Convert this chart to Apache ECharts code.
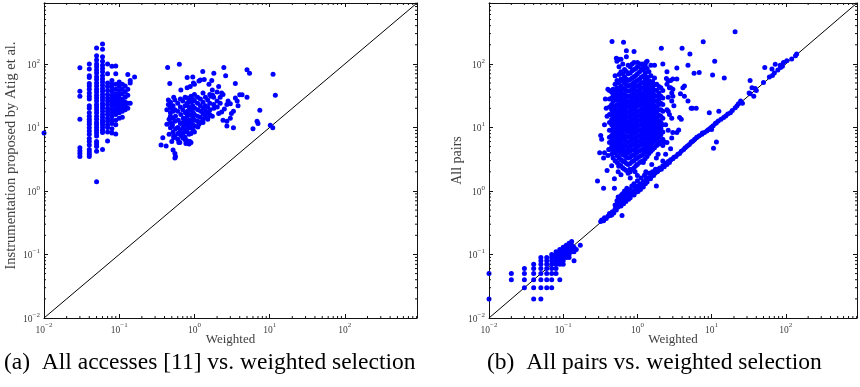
<!DOCTYPE html>
<html>
<head>
<meta charset="utf-8">
<script src="https://cdn.jsdelivr.net/npm/echarts@6/dist/echarts.min.js"></script>
<style>
  html, body { margin: 0; padding: 0; background: #fff; }
  #chart { width: 860px; height: 387px; }
</style>
</head>
<body>
<div id="chart"></div>
<script>
// axis range shared by both panels (log10 from -2 to ~2.96)
const axisMin = 0.01;
const axisMax = 910;
const majorTicks = [0.01, 0.1, 1, 10, 100];
const minorSteps = [2, 3, 4, 5, 6, 7, 8, 9];

// (a) all accesses [11] vs weighted: columns of points at discrete x
const atigColumns = [
  [0.01, [8.2]],
  [0.03, [87, 37, 31, 13.4, 4.8, 4.3, 3.9, 3.5]],
  [0.04, [100, 83, 65, 61, 49, 45, 40, 35, 31, 28, 22, 20, 17, 15, 13.4, 12.3, 11.2, 9.9, 8.8, 7.8, 6.7, 6.0, 5.3, 4.5, 4.1, 3.8, 3.5]],
  [0.05, [178, 135, 115, 100, 90, 80, 72, 63, 57, 50, 45, 40, 36, 32, 29, 26, 23, 21, 19, 17, 15, 13.5, 12, 11, 10, 9, 8.2, 7.3, 6.0, 5.5, 5.0, 4.2, 1.4]],
  [0.06, [205, 170, 130, 110, 95, 85, 75, 65, 58, 52, 46, 41, 37, 33, 30, 27, 24, 22, 20, 18, 16, 14.5, 13, 12, 11, 10, 9, 8.3, 4.5]],
  [0.07, [100, 70, 50, 44, 38, 33, 29, 26, 23, 20, 18, 16, 14, 12.5, 11, 10, 8.5, 6.1]],
  [0.08, [92, 55, 48, 42, 37, 32, 28, 25, 22, 19, 17, 15, 13, 11.5, 9.5, 8.2]],
  [0.09, [93, 70, 48, 40, 34, 30, 26, 23, 20, 18, 16, 13, 11, 7.9]],
  [0.1, [52, 45, 38, 33, 29, 25, 22, 19, 17, 14]],
  [0.11, [48, 40, 34, 28, 24, 21, 18, 14.5]],
  [0.12, [45, 36, 30, 25, 22, 19]],
  [0.13, [68, 40, 32, 24, 20]],
  [0.14, [55, 50, 24]],
  [0.16, [62]]
];

// (a) scattered group right of 0.3
const atigPoints = [
  [0.44, 88], [0.63, 99], [0.47, 49], [0.8, 61], [0.95, 62], [1.29, 76], [1.81, 71], [2.46, 88], [2.6, 65],
  [5.0, 81], [5.4, 71], [11.1, 69], [11.9, 32], [3.5, 49], [2.1, 44], [1.7, 55], [1.56, 48], [1.73, 39],
  [1.2, 56], [1.35, 57], [1.15, 54], [0.8, 42], [0.88, 44], [1.0, 48], [0.97, 50], [0.66, 39], [0.53, 30],
  [0.45, 27], [0.45, 23], [0.47, 22], [0.43, 19], [0.52, 18], [0.48, 15], [0.46, 13.4], [0.43, 11.2],
  [0.48, 9.9], [0.46, 7.8], [0.53, 6.9], [0.53, 7.4], [0.38, 6.9], [0.36, 5.3], [0.42, 5.1], [0.52, 4.4],
  [0.55, 3.9], [0.56, 3.5], [0.55, 3.3], [0.62, 5.8], [0.77, 5.6], [0.75, 6.4], [0.87, 6.0], [0.85, 5.5],
  [0.66, 7.8], [0.77, 8.8], [0.97, 10.5], [1.15, 11.2], [1.3, 12], [1.5, 13.4], [1.73, 15], [2.1, 16.5],
  [2.3, 17.5], [2.5, 19.5], [2.7, 23], [3.0, 23.5], [2.8, 26], [3.5, 29], [3.7, 26], [3.8, 22], [3.3, 18],
  [4.0, 32.6], [4.3, 32.6], [5.0, 30], [2.4, 13], [2.7, 12.5], [3.1, 16.5], [3.0, 14], [3.3, 9.9],
  [2.7, 10.5], [6.0, 9.5], [6.8, 12.5], [7.0, 11.5], [7.4, 18.7], [10.2, 10.8], [11, 9.9],
  [1.65, 31], [1.75, 32], [2.3, 35], [2.4, 33],
  [0.48, 25], [0.48, 20], [0.48, 17], [0.48, 12], [0.5, 10.5], [0.52, 22], [0.52, 14], [0.51, 11], [0.52, 8.5],
  [0.5, 6], [0.55, 27], [0.55, 19], [0.56, 15], [0.55, 12.5], [0.56, 9.5], [0.55, 7.2], [0.6, 24], [0.6, 18],
  [0.61, 13], [0.6, 10], [0.6, 8], [0.6, 6.5], [0.65, 28], [0.65, 21], [0.66, 16], [0.65, 11.5], [0.65, 9],
  [0.66, 7.5], [0.64, 5.8], [0.7, 26], [0.7, 19], [0.71, 14], [0.7, 12], [0.7, 10], [0.71, 8.2], [0.7, 6.8],
  [0.75, 30], [0.75, 22], [0.76, 17], [0.75, 13.5], [0.75, 11], [0.76, 9.2], [0.75, 7], [0.8, 29], [0.8, 24],
  [0.81, 18], [0.8, 15], [0.8, 12.5], [0.81, 10.5], [0.8, 8.5], [0.8, 6.2], [0.85, 27], [0.85, 21], [0.86, 16],
  [0.85, 13], [0.85, 11.5], [0.86, 9.8], [0.85, 7.8], [0.9, 31], [0.9, 25], [0.91, 19], [0.9, 15.5], [0.9, 12],
  [0.91, 10], [0.9, 8], [0.9, 5.8], [0.95, 28], [0.95, 22], [0.96, 17], [0.95, 14], [0.95, 11], [0.96, 9],
  [1.0, 33], [1.0, 26], [1.01, 20], [1.0, 16], [1.0, 13], [1.01, 10.5], [1.0, 8.5], [1.1, 30], [1.1, 24],
  [1.11, 19], [1.1, 15], [1.1, 12.5], [1.11, 10.2], [1.2, 28], [1.2, 22], [1.21, 18], [1.2, 14.5], [1.2, 12],
  [1.3, 35], [1.3, 25], [1.31, 20], [1.3, 16.5], [1.3, 13.5], [1.4, 30], [1.4, 22], [1.41, 18], [1.4, 15],
  [1.5, 27], [1.5, 21], [1.51, 17], [1.5, 14], [1.6, 33], [1.6, 24], [1.61, 19], [1.6, 16], [1.8, 30],
  [1.8, 23], [1.81, 20], [2.0, 36], [2.0, 26], [2.01, 21], [2.2, 30], [2.2, 24]
];

// (b) all pairs vs weighted: low discrete cluster
const pairsLowColumns = [
  [0.01, [0.05, 0.02]],
  [0.02, [0.05, 0.04]],
  [0.03, [0.06, 0.05, 0.04, 0.03]],
  [0.04, [0.07, 0.06, 0.05, 0.04, 0.03, 0.02]],
  [0.05, [0.09, 0.08, 0.07, 0.06, 0.05, 0.04, 0.03, 0.02]],
  [0.06, [0.09, 0.08, 0.07, 0.06, 0.05, 0.04, 0.03]],
  [0.07, [0.1, 0.09, 0.08, 0.07, 0.06, 0.05, 0.04, 0.03]],
  [0.08, [0.11, 0.1, 0.09, 0.08, 0.07, 0.06, 0.05]],
  [0.09, [0.12, 0.11, 0.1, 0.09, 0.08, 0.07, 0.04]],
  [0.1, [0.13, 0.12, 0.11, 0.1, 0.09, 0.08, 0.07]],
  [0.11, [0.14, 0.13, 0.12, 0.11, 0.1, 0.09]],
  [0.12, [0.15, 0.13, 0.12, 0.11, 0.1, 0.09]],
  [0.13, [0.16, 0.14, 0.12, 0.11]],
  [0.14, [0.13, 0.11, 0.08]],
  [0.15, [0.12]],
  [0.17, [0.14]]
];

// (b) band along the diagonal
const pairsBand = [
  [0.32, 0.33], [0.33, 0.35], [0.35, 0.34], [0.36, 0.38], [0.38, 0.37], [0.4, 0.4], [0.42, 0.44], [0.43, 0.41],
  [0.45, 0.42], [0.46, 0.47], [0.48, 0.45], [0.5, 0.52], [0.5, 0.6], [0.52, 0.5], [0.53, 0.7], [0.54, 0.65],
  [0.55, 0.56], [0.55, 0.8], [0.57, 0.62], [0.58, 0.75], [0.6, 0.58], [0.6, 0.68], [0.6, 0.85], [0.62, 0.41],
  [0.63, 0.72], [0.63, 0.9], [0.65, 0.63], [0.66, 0.8], [0.67, 1.0], [0.68, 0.7], [0.7, 0.68], [0.7, 0.88],
  [0.72, 1.1], [0.73, 0.76], [0.75, 0.95], [0.76, 0.74], [0.78, 0.85], [0.8, 1.05], [0.8, 0.78], [0.82, 0.92],
  [0.84, 1.2], [0.85, 0.88], [0.88, 1.0], [0.9, 0.86], [0.9, 1.3], [0.93, 1.12], [0.95, 0.95], [0.97, 1.05],
  [1.0, 1.2], [1.0, 1.45], [1.02, 0.98], [1.05, 1.1], [1.08, 1.3], [1.1, 1.05], [1.12, 1.6], [1.15, 1.25],
  [1.2, 1.15], [1.2, 1.4], [1.25, 1.75], [1.28, 1.3], [1.3, 1.5], [1.35, 1.38], [1.4, 1.62], [1.45, 1.9],
  [1.5, 1.55], [1.55, 1.7], [1.6, 2.0], [1.65, 1.75], [1.7, 1.9], [1.75, 2.2], [1.8, 1.2], [1.85, 2.0],
  [1.9, 2.1], [2.0, 2.3], [2.1, 2.2], [2.2, 2.5], [2.3, 2.4], [2.4, 2.7], [2.5, 2.6], [2.6, 2.9], [2.7, 2.8],
  [2.8, 3.1], [3.0, 3.2], [3.1, 3.4], [3.3, 3.5], [3.5, 3.8], [3.7, 3.9], [3.9, 4.2], [4.2, 4.5], [4.4, 4.8],
  [4.7, 5.1], [5.0, 5.4], [5.3, 5.9], [5.6, 6.1], [5.9, 6.5], [6.3, 7.0], [6.8, 7.4], [7.4, 7.8], [7.5, 8.2],
  [8.0, 8.3], [8.6, 8.8], [9.0, 9.2], [9.5, 9.6], [10, 9.3], [10, 10.2], [10.5, 10.6], [11.2, 11.5],
  [11.6, 11.9], [12.3, 12.6], [13.4, 13.5], [14.5, 14.4], [15.5, 15.2], [16.5, 16.3], [17.9, 17], [19, 18.5],
  [20.8, 20.5], [22, 22], [23, 23.5], [24.6, 26], [26, 24], [10.6, 4.7], [11.6, 5.9], [33, 55], [35, 42],
  [32, 35], [37, 31], [38.6, 41], [33, 34], [40, 38], [50, 51], [52, 88], [60, 62], [65, 83], [66, 66],
  [70, 72], [72, 99], [78, 80], [84, 95], [85, 88], [90, 92], [93, 105], [103, 112], [120, 119], [135, 135],
  [140, 143]
];

// (b) dense cloud above the diagonal, by column
const pairsCloudColumns = [
  [0.42, [4.5, 5.8, 7, 9, 12, 16, 21, 28, 38]],
  [0.45, [3.8, 5, 6.1, 7.5, 9, 11, 13.3, 16, 19, 23, 29, 36]],
  [0.47, [3.3, 4.4, 5.5, 6.6, 8.1, 9.8, 12, 14.5, 17.5, 21, 26, 33, 40]],
  [0.5, [3.0, 4.0, 4.9, 6, 7.1, 8.6, 10.3, 12.5, 15, 18, 22, 27, 31, 38, 48, 65]],
  [0.53, [2.8, 3.6, 4.5, 5.4, 6.5, 7.8, 9.3, 11, 13.2, 16, 19, 23, 28, 34, 42, 55, 110]],
  [0.565, [2.6, 3.3, 4.2, 5, 6, 7.2, 8.6, 10.4, 12.6, 15, 18, 22, 26.5, 32, 39, 50, 68, 90]],
  [0.6, [2.5, 3.1, 3.9, 4.7, 5.7, 6.8, 8.2, 9.9, 12, 14.3, 17, 20.5, 25, 30, 37, 45, 58, 75, 118]],
  [0.635, [2.3, 3.0, 3.7, 4.5, 5.4, 6.5, 7.8, 9.4, 11.3, 13.6, 16.3, 19.5, 23.5, 28.5, 34, 42, 54, 70, 100]],
  [0.67, [2.2, 2.9, 3.6, 4.3, 5.2, 6.3, 7.5, 9, 10.8, 13, 15.5, 18.7, 22.5, 27, 33, 40, 50, 63, 82]],
  [0.71, [2.1, 2.7, 3.4, 4.1, 5, 6, 7.2, 8.7, 10.4, 12.5, 15, 18, 21.5, 26, 31.5, 38, 47, 58, 76, 130]],
  [0.75, [1.9, 2.6, 3.3, 4.0, 4.8, 5.8, 7, 8.4, 10, 12, 14.5, 17.3, 21, 25, 30.5, 37, 45, 55, 70, 95]],
  [0.8, [2.0, 2.7, 3.4, 4.2, 5.1, 6.1, 7.3, 8.8, 10.5, 12.6, 15.2, 18.2, 22, 26, 31.5, 38, 46, 57, 72, 90]],
  [0.85, [2.2, 2.9, 3.6, 4.4, 5.3, 6.4, 7.7, 9.2, 11, 13.3, 16, 19.2, 23, 27.5, 33, 40, 48, 60, 78, 100]],
  [0.9, [2.3, 3.0, 3.7, 4.5, 5.5, 6.6, 8, 9.6, 11.5, 13.8, 16.6, 20, 24, 29, 35, 42, 51, 63, 82, 105]],
  [0.95, [2.5, 3.2, 3.9, 4.7, 5.7, 6.9, 8.3, 10, 12, 14.5, 17.5, 21, 25, 30, 36, 44, 53, 66, 85]],
  [1.0, [2.6, 3.3, 4.1, 5, 6, 7.2, 8.6, 10.4, 12.5, 15, 18, 21.8, 26, 31, 37.5, 45, 55, 70, 90]],
  [1.07, [2.8, 3.5, 4.3, 5.2, 6.2, 7.5, 9, 10.8, 13, 15.5, 18.5, 22.5, 27, 32.5, 39, 47, 58, 75, 100]],
  [1.13, [2.9, 3.6, 4.4, 5.4, 6.5, 7.8, 9.3, 11.2, 13.5, 16.2, 19.5, 23.5, 28, 34, 41, 50, 62, 85]],
  [1.2, [3.0, 3.8, 4.6, 5.6, 6.8, 8.1, 9.7, 11.6, 14, 16.8, 20, 24, 29, 35, 42, 51, 64, 80]],
  [1.27, [3.2, 4.1, 5, 6, 7.2, 8.6, 10.3, 12.4, 15, 18, 21.5, 26, 31, 37, 45, 56, 72, 95]],
  [1.35, [3.5, 4.4, 5.3, 6.4, 7.7, 9.2, 11, 13.2, 16, 19, 23, 27.5, 33, 40, 49, 62, 85, 110]],
  [1.43, [3.9, 4.8, 5.8, 7, 8.4, 10, 12, 14.5, 17.5, 21, 25, 30, 36, 44, 55, 75]],
  [1.52, [4.2, 5.2, 6.3, 7.6, 9.1, 11, 13, 15.7, 19, 23, 27, 33, 40, 50, 65, 95]],
  [1.6, [4.5, 5.6, 6.8, 8.2, 9.8, 11.8, 14.2, 17, 20.5, 24.5, 29.5, 36, 43, 53]],
  [1.7, [4.8, 6, 7.3, 8.8, 10.6, 12.7, 15.3, 18.4, 22, 26.5, 32, 39, 47, 60]],
  [1.82, [5.2, 6.5, 8, 9.7, 11.8, 14.3, 17.3, 21, 25.5, 31, 38, 48]],
  [1.95, [5.5, 7, 8.6, 10.5, 12.8, 15.6, 19, 23, 28, 35, 44]],
  [2.07, [6, 7.7, 9.6, 12, 15, 19, 24, 31, 42]],
  [2.2, [6.5, 8.5, 11, 14, 18, 23, 29, 38]]
];

// (b) scattered points around the cloud
const pairsSpread = [
  [0.455, 226], [0.65, 219], [0.71, 161], [0.9, 157], [2.1, 176], [4.0, 176], [5.1, 143], [7.7, 224],
  [20.7, 321], [11, 110], [10.3, 67], [14.8, 60], [0.52, 123], [0.56, 118], [1.0, 105], [1.15, 100],
  [1.7, 95], [1.3, 105], [1.25, 90], [2.2, 100], [3.4, 86], [2.5, 75], [4.8, 95], [5.8, 71], [6.8, 73],
  [2.8, 55], [3.0, 58], [3.4, 58], [4.1, 42], [4.3, 45], [3.8, 34], [4.3, 31], [4.8, 26], [5.3, 20],
  [6.2, 20], [5.5, 20], [2.9, 26], [2.9, 35], [2.5, 48], [2.7, 42], [3.0, 40], [3.7, 14.3], [3.9, 13.5],
  [3.6, 9.1], [3.4, 8.3], [2.9, 6.8], [2.3, 5.9], [2.2, 5.2], [1.9, 3.8], [1.8, 3.3], [1.55, 8.3],
  [2.4, 11], [2.6, 9], [2.7, 16], [2.5, 19], [3.1, 22], [2.6, 30], [9.3, 17], [12.5, 18], [0.29, 1.43],
  [0.35, 1.1], [0.49, 1.55], [0.39, 2.1], [0.49, 1.1], [0.33, 6.5], [0.31, 4], [0.32, 7.5], [0.35, 3.3],
  [0.36, 11], [0.38, 20], [0.37, 28], [0.4, 40], [0.39, 15], [0.45, 2.5], [0.6, 1.8], [0.8, 1.6],
  [1.0, 1.75], [1.3, 2.0], [1.5, 1.9], [0.55, 2.0], [2.46, 59], [2.6, 54], [2.8, 42], [3.0, 31],
  [2.6, 18], [2.9, 14], [3.0, 8.3], [2.5, 5.8], [2.8, 4.6], [2.4, 3.8], [2.2, 2.95], [0.41, 4.5],
  [0.36, 4.0], [0.4, 3.6], [0.56, 2.46], [0.65, 2.9], [0.79, 2.2], [0.93, 2.0], [1.2, 2.8], [1.56, 2.6],
  [1.26, 1.8], [1.9, 2.2], [1.9, 5.75]
];

function fromColumns(cols) {
  const out = [];
  cols.forEach(([x, ys]) => ys.forEach(y => out.push([x, y])));
  return out;
}

const minorValues = [];
majorTicks.forEach(d => minorSteps.forEach(m => {
  const v = d * m;
  if (v < axisMax) minorValues.push([v, v]);
}));

const serif = '"Liberation Serif", "DejaVu Serif", serif';
const inkGray = '#404040';

function powerLabel(v) {
  const e = Math.log10(v);
  const r = Math.round(e);
  if (Math.abs(e - r) > 0.01) return '';
  const exp = r < 0 ? '\u2212' + (-r) : String(r);
  return '{b|10}{e|' + exp + '}';
}

const labelRich = {
  b: { fontFamily: serif, fontSize: 9.5, color: inkGray, lineHeight: 13, verticalAlign: 'bottom' },
  e: { fontFamily: serif, fontSize: 7, color: inkGray, lineHeight: 8, verticalAlign: 'top' }
};

function makeAxis(gridIndex, position, withLabels, name, nameStyle) {
  const isY = position === 'left' || position === 'right';
  return {
    type: 'log',
    logBase: 10,
    gridIndex: gridIndex,
    position: position,
    min: axisMin,
    max: axisMax,
    name: withLabels ? name : '',
    nameLocation: 'middle',
    nameGap: isY ? 25 : 15,
    nameMoveOverlap: isY,
    nameTextStyle: Object.assign({ fontFamily: serif, fontSize: 13, color: inkGray }, nameStyle || {}),
    splitLine: { show: false },
    axisLine: { show: true, lineStyle: { color: '#111', width: 1 } },
    axisTick: { show: true, inside: true, length: 4, lineStyle: { color: '#111' } },
    axisLabel: {
      show: withLabels,
      margin: 4,
      formatter: powerLabel,
      rich: labelRich
    }
  };
}

function renderMinor(params, api) {
  const v = api.value(0);
  const cs = params.coordSys;
  const px = api.coord([v, 1])[0];
  const py = api.coord([1, v])[1];
  const L = 2;
  const style = { stroke: '#111', lineWidth: 1 };
  const kids = [];
  if (px > cs.x && px < cs.x + cs.width) {
    kids.push({ type: 'line', shape: { x1: px, y1: cs.y + cs.height, x2: px, y2: cs.y + cs.height - L }, style });
    kids.push({ type: 'line', shape: { x1: px, y1: cs.y, x2: px, y2: cs.y + L }, style });
  }
  if (py > cs.y && py < cs.y + cs.height) {
    kids.push({ type: 'line', shape: { x1: cs.x, y1: py, x2: cs.x + L, y2: py }, style });
    kids.push({ type: 'line', shape: { x1: cs.x + cs.width, y1: py, x2: cs.x + cs.width - L, y2: py }, style });
  }
  return { type: 'group', children: kids };
}

function panelSeries(idx, points) {
  return [
    {
      type: 'line', xAxisIndex: idx * 2, yAxisIndex: idx * 2,
      data: [[axisMin, axisMin], [axisMax, axisMax]],
      symbol: 'none', silent: true, z: 1,
      lineStyle: { color: '#000', width: 1 }
    },
    {
      type: 'scatter', xAxisIndex: idx * 2, yAxisIndex: idx * 2,
      data: points, symbol: 'circle', symbolSize: 5, z: 2,
      itemStyle: { color: '#0000ff', opacity: 1 }
    },
    {
      type: 'custom', xAxisIndex: idx * 2, yAxisIndex: idx * 2,
      data: minorValues, renderItem: renderMinor, silent: true, z: 3, clip: false
    }
  ];
}

const atigData = fromColumns(atigColumns).concat(atigPoints);
const pairsData = fromColumns(pairsLowColumns)
  .concat(pairsBand, fromColumns(pairsCloudColumns), pairsSpread);

const chart = echarts.init(document.getElementById('chart'), null, { renderer: 'canvas' });
chart.setOption({
  animation: false,
  backgroundColor: '#fff',
  grid: [
    { left: 44, top: 3, width: 373, height: 315 },
    { left: 489, top: 3, width: 370, height: 315 }
  ],
  xAxis: [
    makeAxis(0, 'bottom', true, 'Weighted'),
    makeAxis(0, 'top', false, ''),
    makeAxis(1, 'bottom', true, 'Weighted'),
    makeAxis(1, 'top', false, '')
  ],
  yAxis: [
    makeAxis(0, 'left', true, 'Instrumentation proposed by Atig et al.', { fontSize: 14.5, padding: [0, 0, 0, 10] }),
    makeAxis(0, 'right', false, ''),
    makeAxis(1, 'left', true, 'All pairs', { fontSize: 14 }),
    makeAxis(1, 'right', false, '')
  ],
  series: panelSeries(0, atigData).concat(panelSeries(1, pairsData)),
  graphic: [
    {
      type: 'text', left: 4, top: 351,
      style: { text: '(a)  All accesses [11] vs. weighted selection', font: '23.5px ' + serif, fill: '#000' }
    },
    {
      type: 'text', left: 487, top: 351,
      style: { text: '(b)  All pairs vs. weighted selection', font: '23.5px ' + serif, fill: '#000' }
    }
  ]
});
</script>
</body>
</html>
